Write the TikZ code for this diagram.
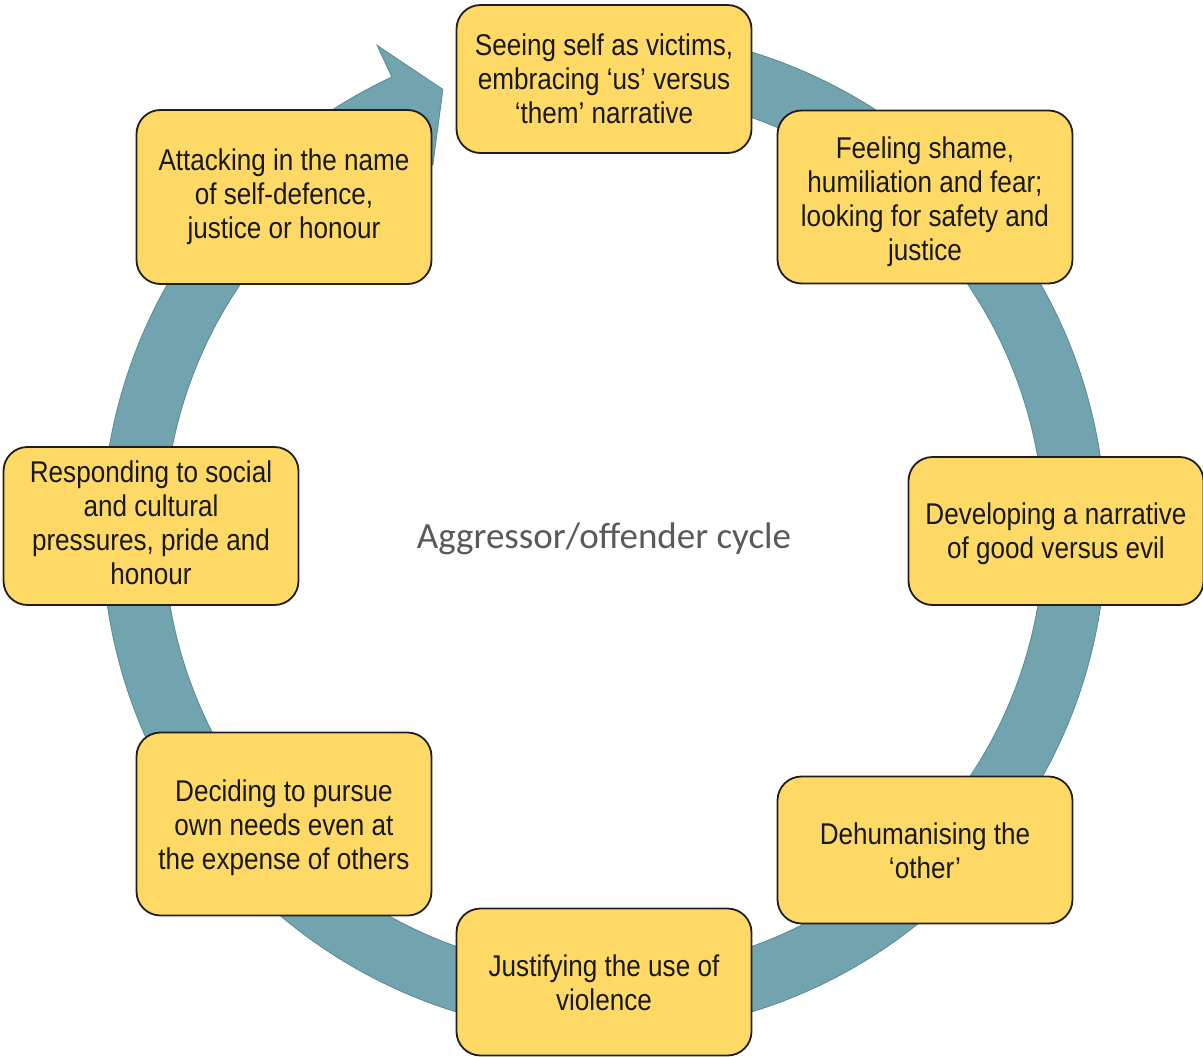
\documentclass[tikz,border=0pt]{standalone}
\usepackage{fontspec}
\newfontfamily\boxfont{Liberation Sans}[FakeStretch=0.87]
\newfontfamily\calfont{Carlito}
\definecolor{ringfill}{RGB}{114,164,175}
\definecolor{ringline}{RGB}{88,138,150}
\definecolor{boxfill}{RGB}{255,217,102}
\definecolor{boxline}{RGB}{30,30,30}
\definecolor{labelgray}{RGB}{89,89,89}
\begin{document}
\begin{tikzpicture}[x=1pt,y=-1pt,
 stagebox/.style={draw=boxline, line width=1.8pt, fill=boxfill, rounded corners=24pt,
   minimum width=295pt, inner sep=0pt},
 stagetext/.style={align=center, font=\boxfont\fontsize{30}{34}\selectfont,
   text=black!90, inner sep=0pt},
 ringstyle/.style={fill=ringfill, draw=ringline, line width=0.8pt},
 centerlabel/.style={font=\calfont\fontsize{37}{44}\selectfont, text=labelgray}]
\useasboundingbox (0,0) rectangle (1203,1057);
\begin{scope}[shift={(604,532)}]
\draw[ringstyle] (-95:502) arc[start angle=-95,end angle=245,radius=502]
  -- (245:537) -- (250:471) -- (245:405) -- (245:440)
  arc[start angle=245,end angle=-95,radius=440] -- cycle;
\end{scope}
\node[stagebox, minimum height=148pt] (b1) at (604,79) {};
\node[stagetext] (t1) at (604,79)
  {Seeing self as victims,\\embracing ‘us’ versus\\‘them’ narrative};
\node[stagebox, minimum height=173pt] (b2) at (925,197) {};
\node[stagetext] (t2) at (925,202)
  {Feeling shame,\\humiliation and fear;\\looking for safety and\\justice};
\node[stagebox, minimum height=148pt] (b3) at (1056,531) {};
\node[stagetext] (t3) at (1056,534)
  {Developing a narrative\\of good versus evil};
\node[stagebox, minimum height=147pt] (b4) at (925,850) {};
\node[stagetext] (t4) at (925,851)
  {Dehumanising the\\‘other’};
\node[stagebox, minimum height=147pt] (b5) at (604,982) {};
\node[stagetext] (t5) at (604,983)
  {Justifying the use of\\violence};
\node[stagebox, minimum height=183pt] (b6) at (284,824) {};
\node[stagetext] (t6) at (284,828)
  {Deciding to pursue\\own needs even at\\the expense of others};
\node[stagebox, minimum height=158pt] (b7) at (151,526) {};
\node[stagetext] (t7) at (151,523)
  {Responding to social\\and cultural\\pressures, pride and\\honour};
\node[stagebox, minimum height=174pt] (b8) at (284,197) {};
\node[stagetext] (t8) at (284,197)
  {Attacking in the name\\of self-defence,\\justice or honour};
\node[centerlabel] (lbl) at (604,539) {Aggressor/offender cycle};
\end{tikzpicture}
\end{document}
